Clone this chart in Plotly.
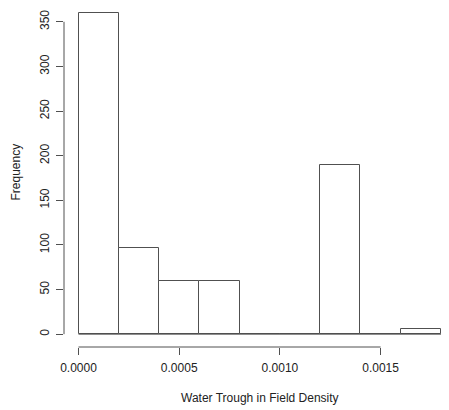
import plotly.graph_objects as go

bin_edges = [0.0, 0.0002, 0.0004, 0.0006, 0.0008, 0.0010, 0.0012, 0.0014, 0.0016, 0.0018]
counts = [360, 96, 59, 59, 0, 0, 189, 0, 6]
x_ticks = [0.0, 0.0005, 0.0010, 0.0015]
x_ticklabels = ["0.0000", "0.0005", "0.0010", "0.0015"]
y_ticks = [0, 50, 100, 150, 200, 250, 300, 350]
x_title = "Water Trough in Field Density"
y_title = "Frequency"

centers = [(a + b) / 2 for a, b in zip(bin_edges[:-1], bin_edges[1:])]
widths = [b - a for a, b in zip(bin_edges[:-1], bin_edges[1:])]

W, H = 449, 410
ml, mb = 64, 63
plot_w = W - ml
plot_h = H - mb

xspan = bin_edges[-1] - bin_edges[0]
xmin = bin_edges[0] - 0.04 * xspan
xpx = 201400.0
xmax = xmin + plot_w / xpx
ymax_d = max(counts)
ymin = -0.04 * ymax_d
ymax = ymax_d + 0.04 * ymax_d

line_col = "#505050"
font = dict(family="Liberation Sans, Arial, sans-serif", size=12, color="#222222")

fig = go.Figure()
fig.add_trace(go.Bar(
    x=centers, y=counts, width=widths,
    marker=dict(color="white", line=dict(color=line_col, width=1)),
    hoverinfo="skip",
))

shapes = [
    dict(type="line", xref="x", yref="y", x0=bin_edges[0], x1=bin_edges[-1], y0=0, y1=0,
         line=dict(color=line_col, width=1)),
    dict(type="line", xref="x", yref="paper", x0=x_ticks[0], x1=x_ticks[-1], y0=0, y1=0,
         line=dict(color=line_col, width=1)),
    dict(type="line", xref="paper", yref="y", x0=0, x1=0, y0=y_ticks[0], y1=y_ticks[-1],
         line=dict(color=line_col, width=1)),
]

fig.update_layout(
    width=W, height=H,
    margin=dict(l=ml, r=0, t=0, b=mb, autoexpand=False),
    paper_bgcolor="white", plot_bgcolor="white",
    showlegend=False,
    font=font,
    bargap=0,
    shapes=shapes,
    xaxis=dict(range=[xmin, xmax], tickvals=x_ticks, ticktext=x_ticklabels,
               ticks="outside", ticklen=7, tickcolor=line_col, tickwidth=1, automargin=False,
               ticklabelstandoff=3,
               showgrid=False, zeroline=False, showline=False, tickfont=font),
    yaxis=dict(range=[ymin, ymax], tickvals=y_ticks, tickangle=-90, automargin=False,
               ticks="outside", ticklen=7, tickcolor=line_col, tickwidth=1,
               ticklabelstandoff=2,
               showgrid=False, zeroline=False, showline=False, tickfont=font),
    annotations=[
        dict(text=x_title, xref="paper", yref="paper",
             x=(260 - ml) / plot_w, y=-(398 - plot_h) / plot_h,
             xanchor="center", yanchor="middle", showarrow=False, font=font),
        dict(text=y_title, xref="paper", yref="paper",
             x=(16 - ml) / plot_w, y=(plot_h - 172.5) / plot_h,
             xanchor="center", yanchor="middle", showarrow=False, textangle=-90, font=font),
    ],
)

fig.write_html("out.html", config={"displayModeBar": False},
               post_script="document.body.style.margin='0';document.body.style.overflow='hidden';")
